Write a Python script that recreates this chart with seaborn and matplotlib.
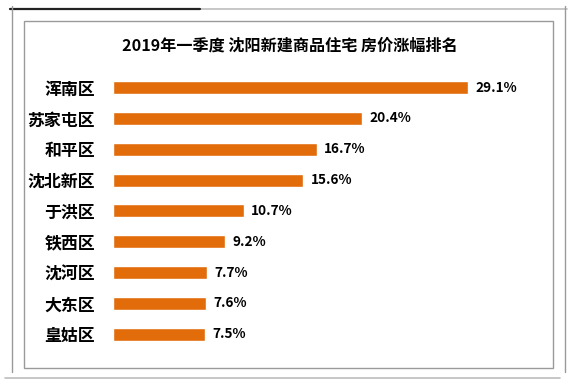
import matplotlib
matplotlib.use("Agg")
import matplotlib.pyplot as plt
import seaborn as sns
import pandas as pd
from matplotlib.lines import Line2D
from matplotlib.patches import Rectangle

districts = ["浑南区", "苏家屯区", "和平区", "沈北新区", "于洪区", "铁西区", "沈河区", "大东区", "皇姑区"]
growth = [29.1, 20.4, 16.7, 15.6, 10.7, 9.2, 7.7, 7.6, 7.5]
title = "2019年一季度 沈阳新建商品住宅 房价涨幅排名"

df = pd.DataFrame({"district": districts, "growth": growth})

sns.set_theme(style="white")
plt.rcParams['font.family'] = ['Noto Sans CJK SC', 'DejaVu Sans']

fig = plt.figure(figsize=(5.77, 3.80), dpi=100)
ax = fig.add_axes([0.196, 0.080, 0.74, 0.730])

sns.barplot(data=df, x="growth", y="district", color="#E36C0A", saturation=1,
            width=0.42, ax=ax)

ax.set_xlim(0, 35)
ax.set_ylim(8.5, -0.5)
ax.set_xlabel("")
ax.set_ylabel("")
ax.set_xticks([])
ax.tick_params(axis="y", length=0, pad=13)
for lab in ax.get_yticklabels():
    lab.set_fontsize(12.2)
    lab.set_fontweight("bold")
    lab.set_color("black")
for s in ax.spines.values():
    s.set_visible(False)

for i, v in enumerate(growth):
    ax.text(v + 0.6, i, f"{v}%", va="center", ha="left", fontsize=9.8,
            fontweight="bold", color="black")

fig.text(0.503, 0.880, title, ha="center", va="center", fontsize=11.6,
         fontweight="bold", color="black")

# inner box and outer frame
fig.add_artist(Rectangle((24 / 577, 1 - 368 / 380), 529 / 577, 347 / 380,
                         transform=fig.transFigure, fill=False,
                         edgecolor="#9a9a9a", linewidth=1.0))
fig.add_artist(Line2D([10 / 577, 567 / 577], [1 - 9 / 380, 1 - 9 / 380],
                      transform=fig.transFigure, color="#bdbdbd", linewidth=1.2))
fig.add_artist(Line2D([10 / 577, 200 / 577], [1 - 9 / 380, 1 - 9 / 380],
                      transform=fig.transFigure, color="#222222", linewidth=1.6))
fig.add_artist(Line2D([12 / 577, 12 / 577], [0.02, 0.985],
                      transform=fig.transFigure, color="#9a9a9a", linewidth=1.0))
fig.add_artist(Line2D([565 / 577, 565 / 577], [0.02, 0.985],
                      transform=fig.transFigure, color="#9a9a9a", linewidth=1.0))
fig.add_artist(Line2D([5 / 577, 560 / 577], [1 - 378 / 380, 1 - 378 / 380],
                      transform=fig.transFigure, color="#bdbdbd", linewidth=1.2))

fig.savefig("out.png", dpi=100)
